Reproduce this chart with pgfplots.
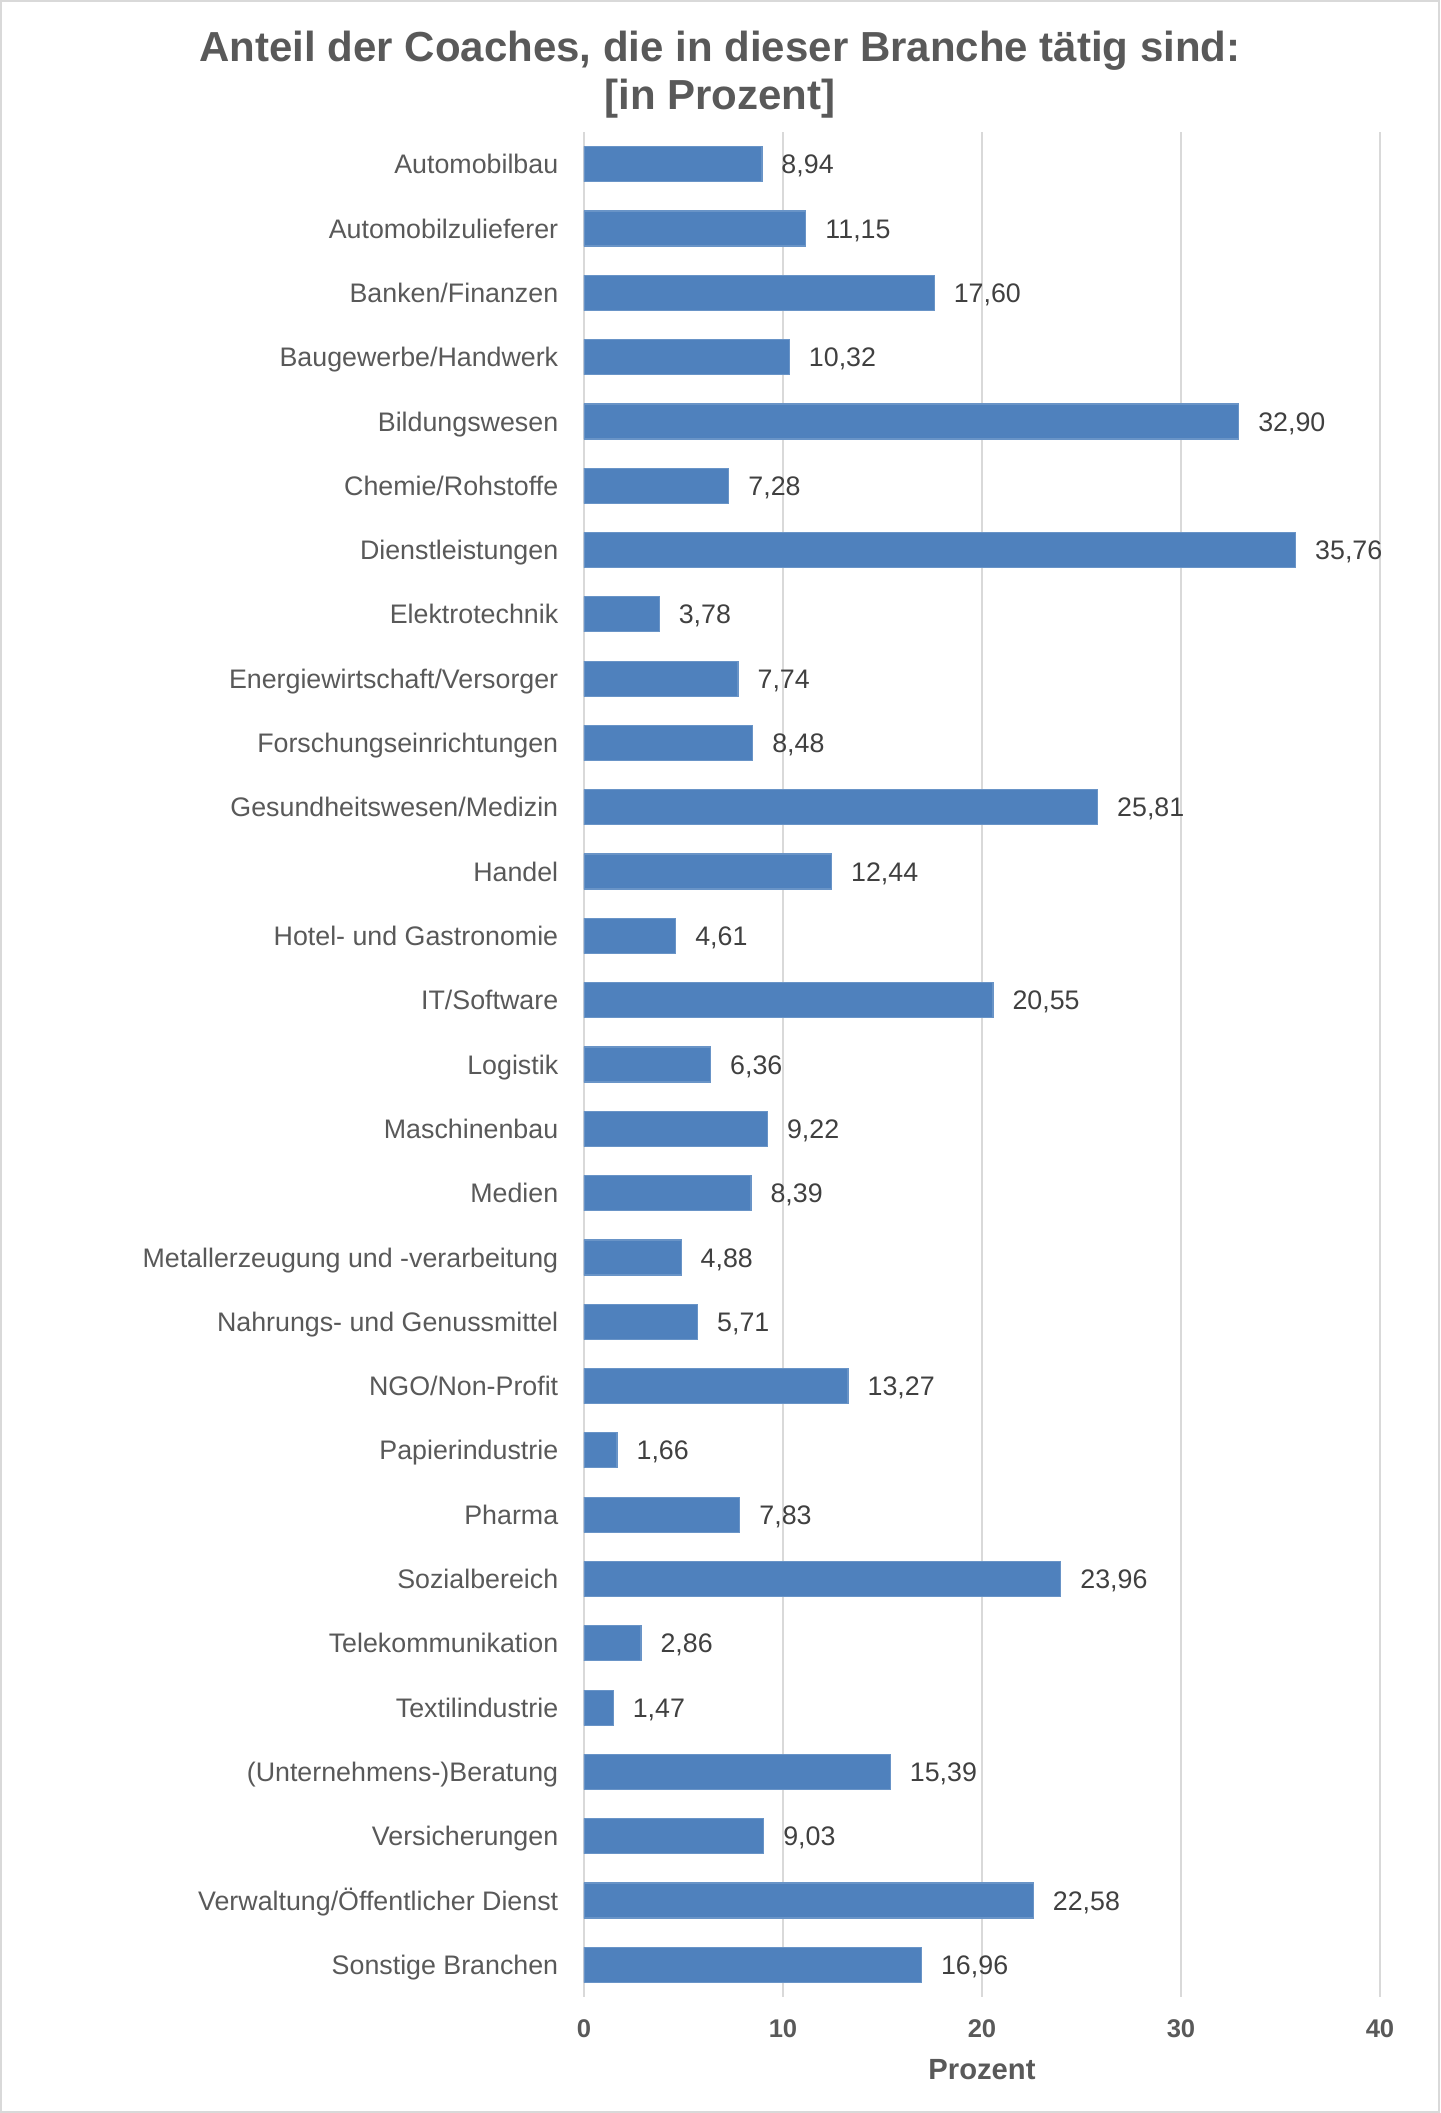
\documentclass[border=0pt]{standalone}
\usepackage{pgfplots}
\pgfplotsset{compat=1.18}
\usepackage{fontspec}
\setmainfont{Liberation Sans}
\definecolor{barblue}{HTML}{4F81BD}
\definecolor{txtgray}{HTML}{595959}
\definecolor{valgray}{HTML}{404040}
\definecolor{gridgray}{HTML}{D9D9D9}
\definecolor{framegray}{HTML}{D9D9D9}
\begin{document}
\begin{tikzpicture}
% page: 1440 x 2113 px at 0.25pt per px; axis box origin at (584px,1997px from top)
\path[use as bounding box] (-146pt,-29pt) rectangle (214pt,499.25pt);
\draw[framegray, line width=0.6pt] (-145.7pt,-28.7pt) rectangle (213.7pt,498.95pt);
\begin{axis}[
  at={(0pt,0pt)}, anchor=south west,
  scale only axis,
  width=199pt, height=466.25pt,
  xbar, bar width=8.75pt,
  xmin=0, xmax=40,
  ymin=-0.5, ymax=28.5,
  y dir=reverse,
  xtick={0,10,20,30,40},
  ytick={0,...,28},
  yticklabels={Automobilbau, Automobilzulieferer, Banken/Finanzen, Baugewerbe/Handwerk,
    Bildungswesen, Chemie/Rohstoffe, Dienstleistungen, Elektrotechnik,
    Energiewirtschaft/Versorger, Forschungseinrichtungen, Gesundheitswesen/Medizin,
    Handel, Hotel- und Gastronomie, IT/Software, Logistik, Maschinenbau, Medien,
    Metallerzeugung und -verarbeitung, Nahrungs- und Genussmittel, NGO/Non-Profit,
    Papierindustrie, Pharma, Sozialbereich, Telekommunikation, Textilindustrie,
    (Unternehmens-)Beratung, Versicherungen, Verwaltung/Öffentlicher Dienst,
    Sonstige Branchen},
  /pgf/number format/assume math mode=true,
  axis line style={draw=none},
  major tick length=0pt,
  xmajorgrids,
  major grid style={draw=gridgray, line width=0.5pt},
  yticklabel style={anchor=base east, inner sep=0pt, xshift=-6.25pt, yshift=-2.4pt,
    font=\fontsize{6.7}{8}\selectfont, text=txtgray},
  xticklabel style={anchor=north, inner sep=0pt, yshift=-5.5pt,
    font=\fontsize{6.4}{7.5}\selectfont\bfseries, text=txtgray},
  xlabel={Prozent},
  xlabel style={at={(axis description cs:0.5,0)}, anchor=north, inner sep=0pt,
    yshift=-15.5pt, font=\fontsize{7.3}{8}\selectfont\bfseries, text=txtgray},
  point meta=x,
  nodes near coords={\pgfmathprintnumber[assume math mode=true,fixed,fixed zerofill,precision=2,use comma]{\pgfplotspointmeta}},
  nodes near coords style={anchor=base west, inner sep=0pt, xshift=4.75pt, yshift=-2.4pt,
    font=\fontsize{6.7}{8}\selectfont, text=valgray},
]
\addplot[fill=barblue, draw=barblue!85!white, line width=0.3pt] coordinates {
  (8.94,0) (11.15,1) (17.60,2) (10.32,3) (32.90,4) (7.28,5) (35.76,6)
  (3.78,7) (7.74,8) (8.48,9) (25.81,10) (12.44,11) (4.61,12) (20.55,13)
  (6.36,14) (9.22,15) (8.39,16) (4.88,17) (5.71,18) (13.27,19) (1.66,20)
  (7.83,21) (23.96,22) (2.86,23) (1.47,24) (15.39,25) (9.03,26) (22.58,27)
  (16.96,28)
};
\end{axis}
\node[anchor=base, inner sep=0pt, text=txtgray, font=\fontsize{10.5}{12}\selectfont\bfseries]
  at (34pt,483.8pt) {Anteil der Coaches, die in dieser Branche tätig sind:};
\node[anchor=base, inner sep=0pt, text=txtgray, font=\fontsize{10.5}{12}\selectfont\bfseries]
  at (34pt,471.75pt) {[in Prozent]};
\end{tikzpicture}
\end{document}
